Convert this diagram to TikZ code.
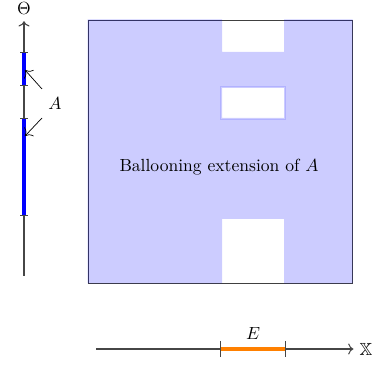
\documentclass[tikz,border=0pt]{standalone}
\usepackage{amsmath,amssymb}
\usepackage{xcolor}
\usepackage{tikz}
\usetikzlibrary{arrows.meta,calc,positioning}
\definecolor{ball}{RGB}{0,0,255}
\definecolor{axisc}{RGB}{70,70,70}
\definecolor{seg}{RGB}{255,128,0}

\begin{document}
\begin{tikzpicture}[x=0.02cm,y=-0.02cm]
  \useasboundingbox (0,0) rectangle (385,367);
  \tikzset{axisline/.style={axisc,semithick,-{To[length=3pt]}},
           tickmark/.style={axisc,thin},
           pointer/.style={black,thin,-{To[length=3.5pt]}}}
  % ballooning region: square with two notches and one hole
  \draw[black!75,thin] (88,20) rectangle (352,283);
  \fill[ball,fill opacity=0.2,even odd rule] (87.5,19.5) -- (222,19.5) -- (222,52) -- (284,52) -- (284,19.5) -- (352.5,19.5)
    -- (352.5,283.5) -- (284,283.5) -- (284,219) -- (222,219) -- (222,283.5) -- (87.5,283.5) -- cycle
    (222,88) rectangle (284,118);
  \draw[ball!30,line width=1pt] (220.5,86.5) rectangle (285.5,119.5);
  \node (ext) at (219,167) {Ballooning extension of $A$};
  % Theta axis
  \node (theta) at (24,9) {$\Theta$};
  \coordinate (tbot) at (24,276);
  \draw[axisline] (tbot) -- (theta.south);
  \draw[ball,line width=2.4pt] (24,52) -- (24,85) (24,118) -- (24,215);
  \foreach \t in {52,85,118,215} {\draw[tickmark] (20,\t) -- (28,\t);}
  \node (a) at (55,104) {$A$};
  \coordinate (a1) at (25,70); \coordinate (a2) at (25,136);
  \draw[pointer] ($(a)+(-13,-15)$) -- (a1);
  \draw[pointer] ($(a)+(-13,14)$) -- (a2);
  % X axis
  \node (xx) at (366,349) {$\mathbb{X}$};
  \coordinate (xl) at (96,349);
  \draw[axisline] (xl) -- (xx.west);
  \draw[seg,line width=1.8pt] (220,349) -- (285,349);
  \foreach \s in {220,285} {\draw[tickmark] (\s,341) -- (\s,357);}
  \node (e) at (253,333) {$E$};
\end{tikzpicture}
\end{document}
